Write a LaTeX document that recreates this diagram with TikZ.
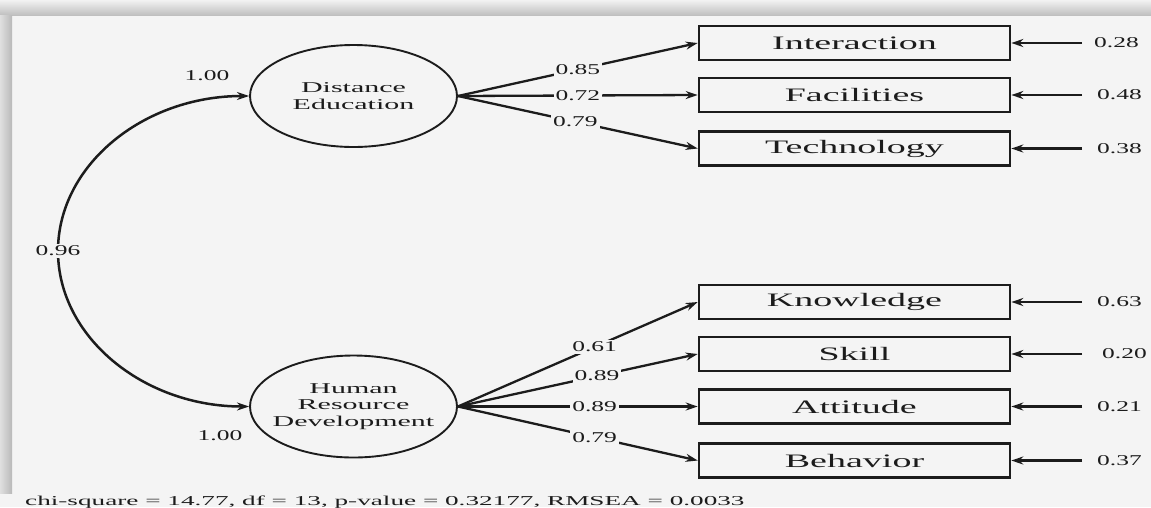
\documentclass[tikz,border=0pt]{standalone}
\usepackage{fontspec}
\setmainfont{Liberation Serif}[FakeStretch=2.0]
\newfontfamily\numfont{Liberation Serif}[FakeStretch=1.7]
\usetikzlibrary{arrows.meta,shapes.geometric}
\definecolor{bg}{HTML}{F4F4F4}
\definecolor{ink}{HTML}{1C1C1C}
\tikzset{
  latent/.style={draw=ink, ellipse, line width=1.9pt, minimum width=207pt, minimum height=102pt, inner sep=0pt},
  latenttext/.style={align=center, text=ink, inner sep=0pt, font=\fontsize{15}{16.5}\selectfont},
  manifest/.style={draw=ink, rectangle, line width=2.6pt, minimum width=311pt, minimum height=34pt, fill=bg, text=ink, font=\fontsize{19}{22}\selectfont},
  num/.style={text=ink, font=\numfont\fontsize{15}{18}\selectfont, inner sep=0pt},
  lbl/.style={text=ink, font=\numfont\fontsize{15}{18}\selectfont, fill=bg, inner sep=2pt},
  tip/.style={-{Stealth[length=12pt,width=8pt]}},
  load/.style={tip, draw=ink, line width=2.3pt},
  resid/.style={tip, draw=ink, line width=2.8pt},
  cov/.style={{Stealth[length=12pt,width=8pt]}-{Stealth[length=12pt,width=8pt]}, draw=ink, line width=2.5pt}
}
\begin{document}
\begin{tikzpicture}[x=1pt,y=-1pt]
\useasboundingbox (0,0) rectangle (1151,507);
\fill[bg] (0,0) rectangle (1151,507);
\shade[top color=gray!10, bottom color=gray!50] (0,0) rectangle (1151,15);
\shade[left color=gray!25, right color=gray!55] (0,15) rectangle (12,493);

% latent variables
\node[latent] (DE) at (353.5,96) {};
\node[latenttext] (DEt) at (DE) {Distance\\Education};
\node[latent] (HRD) at (353.5,406.5) {};
\node[latenttext] (HRDt) at (HRD) {Human\\Resource\\Development};

% indicators
\node[manifest] (I) at (854.5,43) {Interaction};
\node[manifest] (F) at (854.5,95) {Facilities};
\node[manifest] (T) at (854.5,148.5) {Technology};
\node[manifest] (K) at (854.5,302) {Knowledge};
\node[manifest] (S) at (854.5,354) {Skill};
\node[manifest] (A) at (854.5,406.5) {Attitude};
\node[manifest] (B) at (854.5,460.5) {Behavior};

% loadings
\draw[load] (DE.east) -- node[lbl, pos=0.5] (l1) {0.85} (I.west);
\draw[load] (DE.east) -- node[lbl, pos=0.5] (l2) {0.72} (F.west);
\draw[load] (DE.east) -- node[lbl, pos=0.49] (l3) {0.79} (T.west);
\draw[load] (HRD.east) -- node[lbl, pos=0.57] (l4) {0.61} (K.west);
\draw[load] (HRD.east) -- node[lbl, pos=0.58] (l5) {0.89} (S.west);
\draw[load] (HRD.east) -- node[lbl, pos=0.57] (l6) {0.89} (A.west);
\draw[load] (HRD.east) -- node[lbl, pos=0.57] (l7) {0.79} (B.west);

% error terms
\coordinate (r1) at (1082,43);
\coordinate (r2) at (1082,95);
\coordinate (r3) at (1082,148.5);
\coordinate (r4) at (1082,302);
\coordinate (r5) at (1082,354);
\coordinate (r6) at (1082,406.5);
\coordinate (r7) at (1082,460.5);
\draw[resid] (r1) -- (I);
\draw[resid] (r2) -- (F);
\draw[resid] (r3) -- (T);
\draw[resid] (r4) -- (K);
\draw[resid] (r5) -- (S);
\draw[resid] (r6) -- (A);
\draw[resid] (r7) -- (B);
\node[num, anchor=west] (e1) at (1094,43) {0.28};
\node[num, anchor=west] (e2) at (1097,95) {0.48};
\node[num, anchor=west] (e3) at (1097,148.5) {0.38};
\node[num, anchor=west] (e4) at (1097,302) {0.63};
\node[num, anchor=west] (e5) at (1102,354) {0.20};
\node[num, anchor=west] (e6) at (1097,406.5) {0.21};
\node[num, anchor=west] (e7) at (1097,460.5) {0.37};

% covariance
\coordinate (c96) at (58,251);
\draw[cov] (DE.west) .. controls (143.5,96) and (58,165) .. (c96) .. controls (58,337) and (143.5,406.5) .. (HRD.west);
\node[lbl] (v96) at (c96) {0.96};
\node[num] (v1) at (207,76) {1.00};
\node[num] (v2) at (220,436) {1.00};

% fit statistics
\node[anchor=base west, inner sep=0pt, text=ink, font=\fontsize{13.6}{15}\selectfont] (fit) at (25,505) {chi-square = 14.77, df = 13, p-value = 0.32177, RMSEA = 0.0033};
\end{tikzpicture}
\end{document}
